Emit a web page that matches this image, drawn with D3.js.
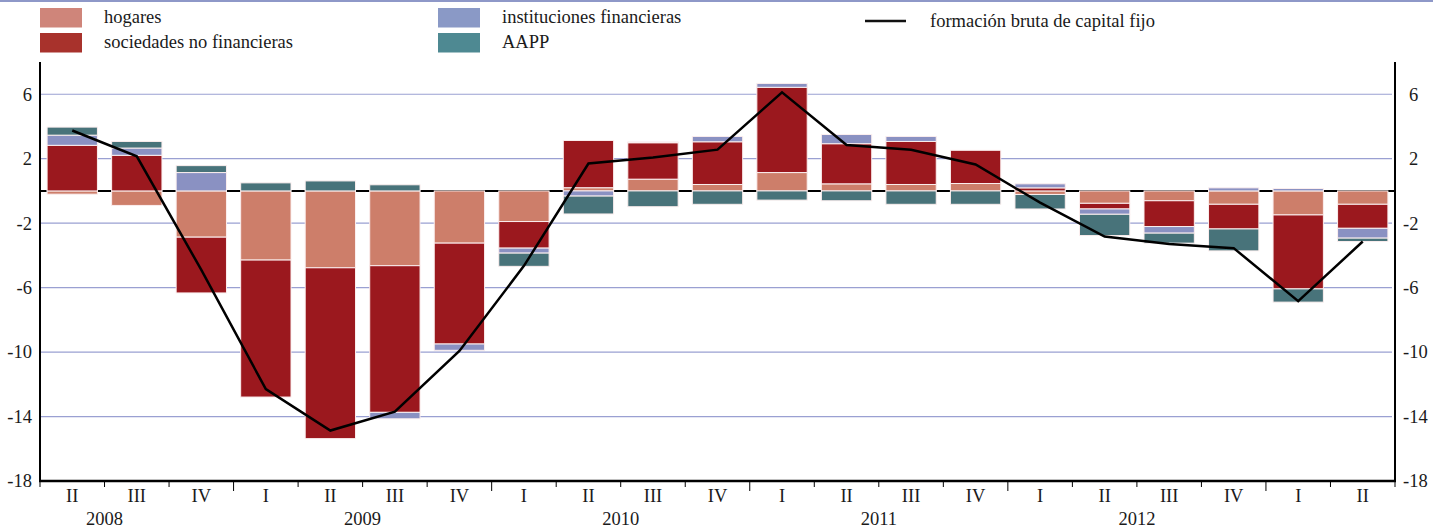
<!DOCTYPE html>
<html>
<head>
<meta charset="utf-8">
<script src="https://cdn.jsdelivr.net/npm/d3@7.9.0/dist/d3.min.js"></script>
<style>
  html, body { margin: 0; padding: 0; background: #fff; }
  svg { display: block; }
  svg text { font-family: "Liberation Serif", "DejaVu Serif", serif; fill: #1a1a1a; font-size: 18.5px; }
</style>
</head>
<body>
<svg id="chart" width="1444" height="529"></svg>
<script>
// quarters shown on the x axis
const quarters = ['II','III','IV','I','II','III','IV','I','II','III','IV','I','II','III','IV','I','II','III','IV','I','II'];
const years = [2008,2008,2008,2009,2009,2009,2009,2010,2010,2010,2010,2011,2011,2011,2011,2012,2012,2012,2012,2013,2013];
const yearLabels = [2008, 2009, 2010, 2011, 2012];

// contributions (pp)
const hogares = [-0.2,-0.9,-2.87,-4.29,-4.77,-4.64,-3.24,-1.9,0.2,0.73,0.4,1.14,0.44,0.4,0.46,-0.22,-0.77,-0.61,-0.83,-1.49,-0.83];
const sociedades = [2.83,2.21,-3.46,-8.5,-10.6,-9.1,-6.26,-1.65,2.93,2.26,2.65,5.29,2.49,2.67,2.06,0.19,-0.35,-1.6,-1.53,-4.59,-1.49];
const instituciones = [0.63,0.45,1.14,0,0,-0.4,-0.39,-0.31,-0.32,0.05,0.33,0.24,0.57,0.31,0,0.25,-0.33,-0.41,0.19,0.15,-0.61];
const aapp = [0.5,0.41,0.43,0.5,0.62,0.38,0,-0.82,-1.11,-0.98,-0.83,-0.57,-0.61,-0.83,-0.83,-0.9,-1.32,-0.62,-1.36,-0.82,-0.21];
// formación bruta de capital fijo
const fbcf = [3.75,2.15,-4.9,-12.3,-14.87,-13.7,-9.93,-4.65,1.7,2.07,2.56,6.12,2.85,2.55,1.64,-0.73,-2.83,-3.3,-3.55,-6.84,-3.14];

const yTicks = [6, 2, -2, -6, -10, -14, -18];

const keys = ['hogares', 'sociedades', 'instituciones', 'aapp'];
const labels = {
  hogares: 'hogares',
  sociedades: 'sociedades no financieras',
  instituciones: 'instituciones financieras',
  aapp: 'AAPP'
};
const barColor = { hogares: '#cd7e6a', sociedades: '#9b181e', instituciones: '#8a91c2', aapp: '#48737a' };
const legendColor = { hogares: '#cf857a', sociedades: '#a8322c', instituciones: '#8a99c6', aapp: '#4e8992' };

const rows = quarters.map((q, i) => ({
  id: i,
  q: q,
  year: years[i],
  hogares: hogares[i],
  sociedades: sociedades[i],
  instituciones: instituciones[i],
  aapp: aapp[i],
  fbcf: fbcf[i]
}));

const svg = d3.select('#chart');
const plotLeft = 40, plotRight = 1395, plotTop = 62, plotBottom = 481;

const x = d3.scaleBand()
  .domain(rows.map(d => d.id))
  .range([plotLeft, plotRight])
  .paddingInner(0.22)
  .paddingOuter(0.11);

const y = d3.scaleLinear().domain([-18, 8]).range([plotBottom, plotTop]);

// top border
svg.append('line')
  .attr('x1', 0).attr('x2', 1433).attr('y1', 1).attr('y2', 1)
  .attr('stroke', '#8e98c8').attr('stroke-width', 2);

// gridlines
svg.append('g')
  .selectAll('line')
  .data(yTicks.filter(t => t !== -18))
  .join('line')
  .attr('x1', plotLeft).attr('x2', plotRight - 3)
  .attr('y1', d => y(d)).attr('y2', d => y(d))
  .attr('stroke', '#9aa0d2').attr('stroke-width', 1.2);

// zero line (behind the bars)
svg.append('line')
  .attr('x1', plotLeft).attr('x2', plotRight)
  .attr('y1', y(0)).attr('y2', y(0))
  .attr('stroke', '#000').attr('stroke-width', 2);

// stacked bars
const series = d3.stack().keys(keys).offset(d3.stackOffsetDiverging)(rows);

svg.append('g')
  .selectAll('g')
  .data(series)
  .join('g')
  .attr('fill', s => barColor[s.key])
  .selectAll('rect')
  .data(s => s.filter(d => d[1] !== d[0]))
  .join('rect')
  .attr('x', d => x(d.data.id))
  .attr('width', x.bandwidth())
  .attr('y', d => y(Math.max(d[0], d[1])))
  .attr('height', d => Math.abs(y(d[0]) - y(d[1])))
  .attr('stroke', '#fbeeee')
  .attr('stroke-width', 1);

// fbcf line
const line = d3.line()
  .x(d => x(d.id) + x.bandwidth() / 2)
  .y(d => y(d.fbcf));

svg.append('path')
  .datum(rows)
  .attr('d', line)
  .attr('fill', 'none')
  .attr('stroke', '#000')
  .attr('stroke-width', 2.5)
  .attr('stroke-linejoin', 'miter');

// y axes
const fmt = d => String(d);
const leftAxis = svg.append('g')
  .attr('transform', `translate(${plotLeft},0)`)
  .call(d3.axisLeft(y).tickValues(yTicks).tickFormat(fmt).tickSize(0).tickPadding(8));
const rightAxis = svg.append('g')
  .attr('transform', `translate(${plotRight},0)`)
  .call(d3.axisRight(y).tickValues(yTicks).tickFormat(fmt).tickSize(0).tickPadding(8));

[leftAxis, rightAxis].forEach(g => {
  g.attr('font-family', null).attr('font-size', null);
  g.select('.domain').attr('stroke', '#000').attr('stroke-width', 2)
    .attr('d', `M0,${plotTop}V${plotBottom}`);
  g.selectAll('text').attr('fill', '#1a1a1a');
});
rightAxis.selectAll('text').attr('dx', d => d > 0 ? 6 : 0);

// x axis
const step = x.step();
const xg = svg.append('g');
xg.append('line')
  .attr('x1', plotLeft - 1).attr('x2', plotRight + 1)
  .attr('y1', plotBottom).attr('y2', plotBottom)
  .attr('stroke', '#000').attr('stroke-width', 2.5);

const boundaries = d3.range(quarters.length + 1).map(i => ({
  x: plotLeft + i * step,
  yearStart: i < quarters.length && quarters[i] === 'I'
}));
xg.selectAll('line.tick')
  .data(boundaries)
  .join('line')
  .attr('class', 'tick')
  .attr('x1', d => d.x).attr('x2', d => d.x)
  .attr('y1', plotBottom).attr('y2', d => plotBottom + (d.yearStart ? 10 : 6))
  .attr('stroke', '#000').attr('stroke-width', 1);

xg.selectAll('text.q')
  .data(rows)
  .join('text')
  .attr('class', 'q')
  .attr('x', d => x(d.id) + x.bandwidth() / 2)
  .attr('y', 502)
  .attr('text-anchor', 'middle')
  .text(d => d.q);

// year label centred on its full four quarters
const firstQ = { I: 0, II: 1, III: 2, IV: 3 };
xg.selectAll('text.yr')
  .data(yearLabels)
  .join('text')
  .attr('class', 'yr')
  .attr('x', yr => {
    const i = years.indexOf(yr);
    const start = plotLeft + (i - firstQ[quarters[i]]) * step;
    return start + 2 * step;
  })
  .attr('y', 525)
  .attr('text-anchor', 'middle')
  .text(d => d);

// legend
const legend = svg.append('g');
const legendPos = {
  hogares: [40, 8],
  sociedades: [40, 33],
  instituciones: [438, 8],
  aapp: [438, 33]
};
keys.forEach(k => {
  const [lx, ly] = legendPos[k];
  legend.append('rect')
    .attr('x', lx).attr('y', ly).attr('width', 42).attr('height', 19.5)
    .attr('fill', legendColor[k]);
  legend.append('text')
    .attr('x', lx + 64).attr('y', ly + 15)
    .text(labels[k]);
});
legend.append('line')
  .attr('x1', 865).attr('x2', 906).attr('y1', 21).attr('y2', 21)
  .attr('stroke', '#111').attr('stroke-width', 2.5);
legend.append('text')
  .attr('x', 930).attr('y', 27)
  .text('formación bruta de capital fijo');
</script>
</body>
</html>
